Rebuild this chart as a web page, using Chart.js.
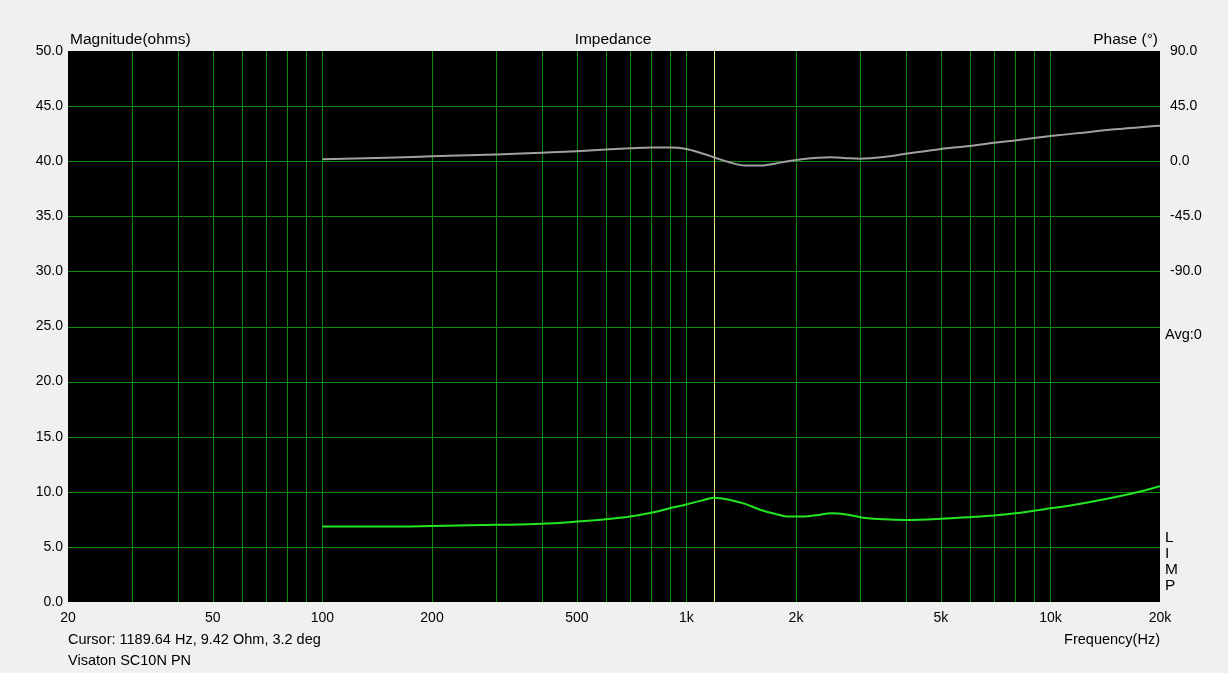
<!DOCTYPE html>
<html lang="en">
<head>
    <meta charset="UTF-8">
    <title>Impedance</title>
    <script src="https://cdn.jsdelivr.net/npm/chart.js"></script>
    <style>
        html, body {
            margin: 0;
            padding: 0;
            background: #f0f0f0;
        }
        #wrap {
            width: 1228px;
            height: 673px;
        }
    </style>
</head>
<body>
    <div id="wrap"><canvas id="chart"></canvas></div>

    <script>
        // frequency points (Hz)
        const freqHz = [100, 150, 200, 300, 400, 500, 600, 700, 800, 900, 1000, 1100, 1190, 1300, 1450, 1600, 1750, 1900,
            2100, 2300, 2500, 2750, 3000, 3500, 4000, 5000, 6000, 7000, 8000, 10000, 12000, 15000, 18000, 20000];
        // impedance magnitude (ohms)
        const magnitudeOhm = [6.85, 6.85, 6.9, 7.0, 7.1, 7.3, 7.5, 7.75, 8.1, 8.5, 8.85, 9.2, 9.45, 9.3, 8.9, 8.35, 8.0, 7.75,
            7.75, 7.9, 8.05, 7.95, 7.7, 7.5, 7.45, 7.55, 7.7, 7.85, 8.05, 8.5, 8.9, 9.5, 10.1, 10.5];
        // phase (degrees)
        const phaseDeg = [1.6, 2.8, 4.0, 5.5, 7.0, 8.2, 9.5, 10.5, 11.2, 11.2, 10.0, 6.5, 3.2, -0.5, -3.5, -3.5, -2.0, 0.0,
            1.8, 2.8, 3.2, 2.5, 2.0, 3.5, 6.0, 10.0, 12.5, 15.0, 17.0, 20.5, 23.0, 26.0, 28.0, 29.0];

        // vertical grid lines and labelled frequencies
        const gridFreqs = [20, 30, 40, 50, 60, 70, 80, 90, 100, 200, 300, 400, 500, 600, 700, 800, 900,
            1000, 2000, 3000, 4000, 5000, 6000, 7000, 8000, 9000, 10000, 20000];
        const freqLabels = {20: "20", 50: "50", 100: "100", 200: "200", 500: "500", 1000: "1k", 2000: "2k",
            5000: "5k", 10000: "10k", 20000: "20k"};

        const cursorFreq = 1189.64;
        const cursorText = "Cursor: 1189.64 Hz, 9.42 Ohm, 3.2 deg";
        const seriesName = "Visaton SC10N PN";

        const FONT = '"Liberation Sans", Arial, sans-serif';
        const GRID = "rgb(10,140,10)";
        const TEXT = "#000";

        const magPoints = freqHz.map((f, i) => ({x: f, y: magnitudeOhm[i]}));
        const phasePoints = freqHz.map((f, i) => ({x: f, y: phaseDeg[i]}));

        const plotDecor = {
            id: "plotDecor",
            beforeDraw(chart) {
                const {ctx, chartArea: a} = chart;
                ctx.save();
                ctx.fillStyle = "#000";
                ctx.fillRect(a.left, a.top, a.right - a.left, a.bottom - a.top);
                ctx.restore();
            },
            beforeDatasetsDraw(chart) {
                const {ctx, chartArea: a, scales} = chart;
                ctx.save();
                ctx.lineWidth = 1;
                ctx.strokeStyle = GRID;
                ctx.beginPath();
                // vertical grid, edges left out
                scales.x.ticks.forEach(t => {
                    const x = Math.round(scales.x.getPixelForValue(t.value));
                    if (x <= a.left || x >= a.right) return;
                    ctx.moveTo(x + 0.5, a.top);
                    ctx.lineTo(x + 0.5, a.bottom);
                });
                // horizontal grid
                scales.y.ticks.forEach(t => {
                    const y = Math.round(scales.y.getPixelForValue(t.value));
                    if (y <= a.top || y >= a.bottom) return;
                    ctx.moveTo(a.left, y + 0.5);
                    ctx.lineTo(a.right, y + 0.5);
                });
                ctx.stroke();

                // cursor
                const cx = Math.round(scales.x.getPixelForValue(cursorFreq)) + 0.5;
                ctx.strokeStyle = "#e8e87a";
                ctx.beginPath();
                ctx.moveTo(cx, a.top);
                ctx.lineTo(cx, a.bottom);
                ctx.stroke();
                ctx.restore();
            },
            afterDraw(chart) {
                const {ctx, chartArea: a} = chart;
                ctx.save();
                ctx.fillStyle = TEXT;
                ctx.textBaseline = "middle";

                ctx.font = "15.5px " + FONT;
                ctx.textAlign = "left";
                ctx.fillText("Magnitude(ohms)", a.left + 2, 40);
                ctx.textAlign = "center";
                ctx.fillText("Impedance", 613, 40);
                ctx.textAlign = "right";
                ctx.fillText("Phase (\u00b0)", a.right - 2, 40);

                ctx.font = "14.5px " + FONT;
                ctx.textAlign = "left";
                ctx.fillText(cursorText, a.left, 640);
                ctx.fillText(seriesName, a.left, 661);
                ctx.fillText("Avg:0", a.right + 5, 335);
                ctx.font = "15.5px " + FONT;
                ["L", "I", "M", "P"].forEach((c, i) => ctx.fillText(c, a.right + 5, 538 + i * 16));

                ctx.font = "14.5px " + FONT;
                ctx.textAlign = "right";
                ctx.fillText("Frequency(Hz)", a.right, 640);
                ctx.restore();
            }
        };

        new Chart(document.getElementById("chart"), {
            type: "line",
            data: {
                datasets: [
                    {
                        label: "Magnitude",
                        data: magPoints,
                        yAxisID: "y",
                        borderColor: "#22e622",
                        borderWidth: 2,
                        pointRadius: 0,
                        cubicInterpolationMode: "monotone"
                    },
                    {
                        label: "Phase",
                        data: phasePoints,
                        yAxisID: "y1",
                        borderColor: "#a0a0a0",
                        borderWidth: 2,
                        pointRadius: 0,
                        cubicInterpolationMode: "monotone"
                    }
                ]
            },
            options: {
                responsive: true,
                maintainAspectRatio: false,
                animation: false,
                layout: {padding: {top: 51, left: 0, right: 0, bottom: 0}},
                plugins: {
                    legend: {display: false},
                    tooltip: {enabled: false}
                },
                scales: {
                    x: {
                        type: "logarithmic",
                        min: 20,
                        max: 20000,
                        afterBuildTicks(scale) {
                            scale.ticks = gridFreqs.map(v => ({value: v}));
                        },
                        afterFit(scale) { scale.height = 71; },
                        border: {display: false},
                        grid: {display: false, drawTicks: false},
                        ticks: {
                            autoSkip: false,
                            maxRotation: 0,
                            padding: 8,
                            color: TEXT,
                            font: {family: FONT, size: 14},
                            callback: v => freqLabels[v] || ""
                        }
                    },
                    y: {
                        position: "left",
                        min: 0,
                        max: 50,
                        afterFit(scale) { scale.width = 68; },
                        border: {display: false},
                        grid: {display: false, drawTicks: false},
                        ticks: {
                            stepSize: 5,
                            padding: 5,
                            color: TEXT,
                            font: {family: FONT, size: 14},
                            callback: v => v.toFixed(1)
                        }
                    },
                    y1: {
                        position: "right",
                        min: -360,
                        max: 90,
                        afterFit(scale) { scale.width = 68; },
                        border: {display: false},
                        grid: {display: false, drawTicks: false},
                        ticks: {
                            stepSize: 45,
                            padding: 10,
                            color: TEXT,
                            font: {family: FONT, size: 14},
                            callback: v => (v >= -90 ? v.toFixed(1) : "")
                        }
                    }
                }
            },
            plugins: [plotDecor]
        });
    </script>
</body>
</html>
